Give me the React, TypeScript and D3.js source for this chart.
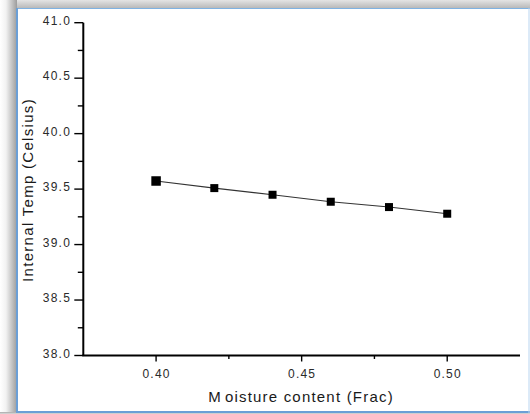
import React from "react";
import * as d3 from "d3";

// Internal temperature against moisture content
const moisture = [0.4, 0.42, 0.44, 0.46, 0.48, 0.5];
const internalTemp = [39.573, 39.509, 39.449, 39.386, 39.338, 39.278];

const xMajorTicks = [0.4, 0.45, 0.5];
const xMinorTicks = [0.425, 0.475];
const yMajorTicks = [38.0, 38.5, 39.0, 39.5, 40.0, 40.5, 41.0];
const yMinorTicks = [38.25, 38.75, 39.25, 39.75, 40.25, 40.75];

const xTitle = ["M", "oisture content (Frac)"];
const yTitle = "Internal Temp (Celsius)";

const W = 530;
const H = 414;
const FONT = "Arial, 'Liberation Sans', sans-serif";

export default function App() {
  const x = d3.scaleLinear().domain([0.375, 0.525]).range([83.3, 520]);
  const y = d3.scaleLinear().domain([38, 41]).range([355.5, 22.7]);

  const pts = moisture.map((m, i) => [m, internalTemp[i]] as [number, number]);
  const line = d3
    .line<[number, number]>()
    .x((d) => x(d[0]))
    .y((d) => y(d[1]));

  const axisY = y(38);
  const axisX = x(0.375);

  return (
    <svg
      width={W}
      height={H}
      style={{ position: "absolute", left: 0, top: 0, display: "block" }}
    >
      <defs>
        <linearGradient id="topShade" x1="0" y1="0" x2="0" y2="1">
          <stop offset="0" stopColor="#e4e4e4" />
          <stop offset="1" stopColor="#b4b4b4" />
        </linearGradient>
        <linearGradient id="leftShade" x1="0" y1="0" x2="1" y2="0">
          <stop offset="0" stopColor="#ffffff" />
          <stop offset="0.35" stopColor="#f2f2f2" />
          <stop offset="1" stopColor="#9c9c9c" />
        </linearGradient>
        <linearGradient id="bottomShade" x1="0" y1="0" x2="0" y2="1">
          <stop offset="0" stopColor="#a8a8a8" />
          <stop offset="1" stopColor="#dcdcdc" />
        </linearGradient>
      </defs>

      {/* window frame and drop shadow */}
      <rect x={0} y={0} width={W} height={H} fill="#ffffff" />
      <rect x={0} y={0} width={W} height={9} fill="url(#topShade)" />
      <rect x={0} y={0} width={17} height={H} fill="url(#leftShade)" />
      <rect x={0} y={412} width={W} height={2} fill="url(#bottomShade)" />
      <rect x={16} y={8} width={513} height={404} fill="#ffffff" />
      <line x1={16} x2={530} y1={8.5} y2={8.5} stroke="#7fb2e2" strokeWidth={1.2} />
      <line x1={17} x2={17} y1={8} y2={413} stroke="#6b9fd6" strokeWidth={2} />
      <line x1={16} x2={530} y1={412} y2={412} stroke="#6b9fd6" strokeWidth={2} />
      <line x1={529} x2={529} y1={8} y2={413} stroke="#b9d5f0" strokeWidth={1} />

      {/* axes */}
      <g stroke="#000" fill="none">
        <line x1={axisX} x2={axisX} y1={y(41)} y2={axisY} strokeWidth={2} />
        <line x1={axisX - 1} x2={520} y1={axisY} y2={axisY} strokeWidth={2} />
        {yMajorTicks.map((t) => (
          <line key={"ym" + t} x1={axisX - 9} x2={axisX} y1={y(t)} y2={y(t)} strokeWidth={1.4} />
        ))}
        {yMinorTicks.map((t) => (
          <line key={"yn" + t} x1={axisX - 5.5} x2={axisX} y1={y(t)} y2={y(t)} strokeWidth={1.4} />
        ))}
        {xMajorTicks.map((t) => (
          <line key={"xm" + t} x1={x(t)} x2={x(t)} y1={axisY} y2={axisY + 6} strokeWidth={1.4} />
        ))}
        {xMinorTicks.map((t) => (
          <line key={"xn" + t} x1={x(t)} x2={x(t)} y1={axisY} y2={axisY + 3.5} strokeWidth={1.4} />
        ))}
      </g>

      {/* tick labels */}
      <g fontFamily={FONT} fontSize={12} fill="#2a2a2a" letterSpacing={1.2}>
        {yMajorTicks.map((t) => (
          <text key={"yl" + t} x={71} y={y(t) + 2} textAnchor="end">
            {t.toFixed(1)}
          </text>
        ))}
        {xMajorTicks.map((t) => (
          <text key={"xl" + t} x={x(t) + 0.5} y={377.5} textAnchor="middle">
            {t.toFixed(2)}
          </text>
        ))}
      </g>

      {/* axis titles */}
      <text
        x={301}
        y={402}
        textAnchor="middle"
        fontFamily={FONT}
        fontSize={15}
        letterSpacing={1.2}
        fill="#1a1a1a"
      >
        <tspan>{xTitle[0]}</tspan>
        <tspan dx={3}>{xTitle[1]}</tspan>
      </text>
      <text
        transform={`translate(33,190) rotate(-90)`}
        textAnchor="middle"
        fontFamily={FONT}
        fontSize={15}
        letterSpacing={1.3}
        fill="#1a1a1a"
      >
        {yTitle}
      </text>

      {/* data line and markers */}
      <path d={line(pts) || ""} fill="none" stroke="#333" strokeWidth={1.1} />
      {pts.map((d, i) => {
        const s = i === 0 ? 9.5 : 8;
        return (
          <rect
            key={"p" + i}
            x={x(d[0]) - s / 2}
            y={y(d[1]) - s / 2}
            width={s}
            height={s}
            fill="#000"
          />
        );
      })}
    </svg>
  );
}
